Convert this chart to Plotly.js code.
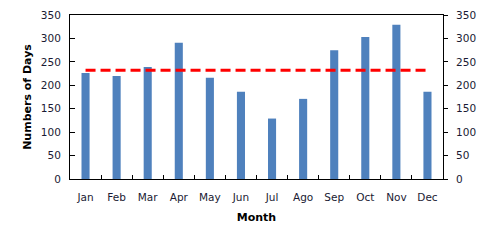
<!DOCTYPE html>
<html>
<head>
<meta charset="utf-8">
<script src="https://cdn.plot.ly/plotly-3.0.1.min.js"></script>
<style>html,body{margin:0;padding:0;background:#fff;}#chart{width:486px;height:242px;}</style>
</head>
<body>
<div id="chart"></div>
<script>
const months = ["Jan","Feb","Mar","Apr","May","Jun","Jul","Ago","Sep","Oct","Nov","Dec"];
const days = [226, 220, 239, 291, 216, 186, 129, 171, 275, 303, 329, 186];
const averageDays = 232;
const yTicks = [0, 50, 100, 150, 200, 250, 300, 350];

const font = {family: "DejaVu Sans, Verdana, sans-serif", size: 10.5, color: "#1a1a33"};

const data = [
  {type: "bar", x: months, y: days, marker: {color: "#4F81BD"}, hoverinfo: "none"},
  {type: "scatter", mode: "lines", x: [months[0], months[months.length-1]], y: [averageDays, averageDays],
   line: {color: "#FF0000", width: 3, dash: "10px,5px"}, hoverinfo: "none"},
  {type: "scatter", mode: "lines", x: [months[0]], y: [0], yaxis: "y2", showlegend: false, hoverinfo: "none", line: {color: "rgba(0,0,0,0)"}}
];

const layout = {
  width: 486, height: 242,
  margin: {l: 70, r: 43, t: 15, b: 63},
  showlegend: false,
  bargap: 0.74,
  paper_bgcolor: "#fff", plot_bgcolor: "#fff",
  font: font,
  xaxis: {
    type: "category", tickson: "boundaries", ticks: "inside", ticklen: 4, tickcolor: "#000",
    showline: true, linecolor: "#000", linewidth: 1, mirror: true, showgrid: false,
    tickfont: font, ticklabelstandoff: 8,
    title: {text: "Month", font: {family: "DejaVu Sans, Verdana, sans-serif", size: 11, color: "#000", weight: "bold"}, standoff: 11}
  },
  yaxis: {
    range: [0, 350], tickvals: yTicks, ticks: "inside", ticklen: 5, tickcolor: "#000",
    showline: true, linecolor: "#000", linewidth: 1, mirror: true, showgrid: false, zeroline: false,
    tickfont: font, ticklabelstandoff: 6,
    title: {text: "Numbers of Days", font: {family: "DejaVu Sans, Verdana, sans-serif", size: 11, color: "#000", weight: "bold"}, standoff: 7}
  },
  yaxis2: {
    overlaying: "y", side: "right", range: [0, 350], tickvals: yTicks, ticks: "outside", ticklen: 4, tickcolor: "#000",
    showline: false, showgrid: false, zeroline: false, tickfont: font, ticklabelstandoff: 6
  }
};

Plotly.newPlot("chart", data, layout, {staticPlot: true, displayModeBar: false});
</script>
</body>
</html>
